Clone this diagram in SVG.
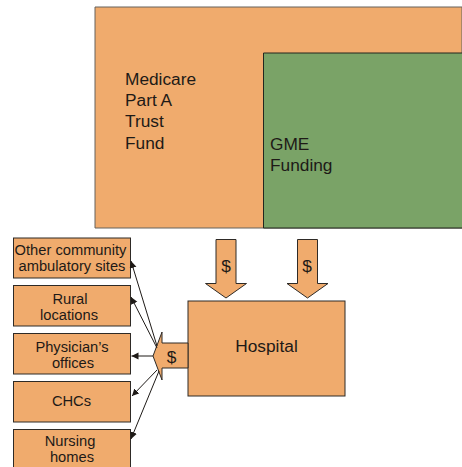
<svg xmlns="http://www.w3.org/2000/svg" width="462" height="467" viewBox="0 0 462 467">
<style>
text{font-family:"Liberation Sans",Arial,sans-serif;fill:#1e1a17}
.o{fill:#f0ab6d;stroke:#2e2a26;stroke-width:1}
.t1{font-size:17.300px}
.t2{font-size:14.700px;text-anchor:middle}
.c{stroke:#1e1a17;stroke-width:1;fill:none;marker-end:url(#a)}
</style>
<defs><marker id="a" markerUnits="userSpaceOnUse" markerWidth="8" markerHeight="8" refX="7" refY="3.500" orient="auto"><path d="M0 0L7 3.500L0 7z" fill="#1e1a17"/></marker></defs>
<rect width="462" height="467" fill="#fff"/>
<g id="trust"><path class="o" d="M95 7H462V228H95z" style="stroke:#66625c"/>
<text class="t1" x="125" y="85">Medicare</text><text class="t1" x="125" y="106">Part A</text><text class="t1" x="125" y="127">Trust</text><text class="t1" x="125" y="149">Fund</text></g>
<g id="gme"><path d="M462 53H263.500V228H462" fill="#7aa367" stroke="#22261f"/>
<text class="t1" x="270" y="150">GME</text><text class="t1" x="270" y="171">Funding</text></g>
<g id="arrow1"><path class="o" d="M216 239.500H236V283.500H246.500L226 298L205.500 283.500H216z"/><text class="t1" x="226" y="272" text-anchor="middle">$</text></g>
<g id="arrow2"><path class="o" d="M297.500 239.500H317.500V283.500H328L307.500 298L287 283.500H297.500z"/><text class="t1" x="307" y="272" text-anchor="middle">$</text></g>
<g id="hospital"><rect class="o" x="188" y="301" width="157" height="95"/><text class="t1" x="266.500" y="352" text-anchor="middle">Hospital</text></g>
<g id="arrow3"><path class="o" d="M188 343H162V332L153 356L162 380V368H188z"/><text class="t1" x="171.500" y="363" text-anchor="middle">$</text></g>
<g id="sites"><rect class="o" x="13.500" y="238" width="117" height="40"/><text class="t2" x="70.500" y="255">Other community</text><text class="t2" x="72" y="271">ambulatory sites</text></g>
<g id="rural"><rect class="o" x="13.500" y="285.500" width="117" height="40.500"/><text class="t2" x="70" y="304">Rural</text><text class="t2" x="69" y="320">locations</text></g>
<g id="physician"><rect class="o" x="13.500" y="333.500" width="117" height="40.500"/><text class="t2" x="72" y="352">Physician’s</text><text class="t2" x="73" y="368">offices</text></g>
<g id="chcs"><rect class="o" x="13.500" y="381.500" width="117" height="40.500"/><text class="t2" x="71.500" y="406">CHCs</text></g>
<g id="nursing"><rect class="o" x="13.500" y="429.500" width="117" height="40"/><text class="t2" x="70" y="446">Nursing</text><text class="t2" x="72" y="462">homes</text></g>
<g id="connectors">
<path class="c" d="M157 346L131 261"/><path class="c" d="M157 348L131 297"/><path class="c" d="M153 356H131.500"/><path class="c" d="M157 370L132 396"/><path class="c" d="M159 371L131 439"/>
</g>
</svg>
